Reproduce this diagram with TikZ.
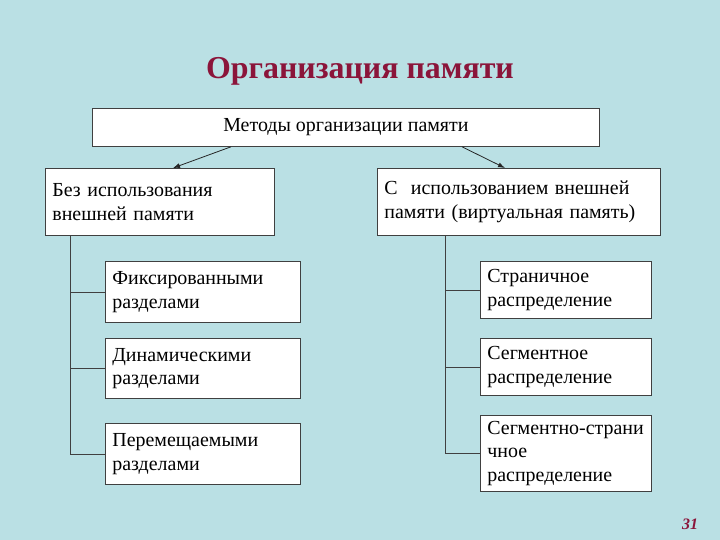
\documentclass[tikz,border=0pt]{standalone}
\usepackage{fontspec}
\setmainfont{Liberation Serif}
\usetikzlibrary{arrows.meta,positioning}
\definecolor{slidebg}{RGB}{186,224,228}
\definecolor{titlered}{RGB}{139,21,58}
\begin{document}
\begin{tikzpicture}[
  x=1bp, y=-1bp,
  font=\fontsize{20}{23.5}\selectfont,
  box/.style={draw=black!75, line width=0.8bp, fill=white, anchor=north west, inner xsep=7bp, inner ysep=0bp, align=left},
  arrow/.style={-{Latex[length=7bp,width=5bp]}, line width=0.8bp, draw=black!85},
  trunk/.style={line width=0.8bp, draw=black!75}
]
\fill[slidebg] (0,0) rectangle (720,540);
\useasboundingbox (0,0) rectangle (720,540);

\node[font=\fontsize{32}{34}\selectfont\bfseries, text=titlered] (title) at (360,71) {Организация памяти};

\node[box, align=center, minimum width=507bp, minimum height=38bp] (methods) at (92,108)
  {Методы организации памяти};

\node[box, text width=215bp, minimum height=67bp] (nonext) at (45,168)
  {Без использования\\внешней памяти};
\node[box, text width=269bp, minimum height=67bp] (virt) at (377,168)
  {С\ \ использованием внешней\\памяти (виртуальная память)};

\draw[arrow] ([xshift=139bp]methods.south west) -- ([xshift=128bp]nonext.north west);
\draw[arrow] ([xshift=370bp]methods.south west) -- ([xshift=128bp]virt.north west);

\node[box, text width=181bp, minimum height=61bp] (fixed) at (105,261)
  {Фиксированными\\разделами};
\node[box, text width=181bp, minimum height=60bp] (dynamic) at (105,338)
  {Динамическими\\разделами};
\node[box, text width=181bp, minimum height=61bp] (movable) at (105,423)
  {Перемещаемыми\\разделами};

\node[box, text width=157bp, minimum height=57bp] (paged) at (480,261)
  {Страничное\\распределение};
\node[box, text width=157bp, minimum height=57bp] (segm) at (480,338)
  {Сегментное\\распределение};
\node[box, text width=157bp, minimum height=76bp] (segpaged) at (480,415)
  {Сегментно-страни\\чное\\распределение};

\coordinate (ltrunk) at ([xshift=25bp]nonext.south west);
\coordinate (rtrunk) at ([xshift=68bp]virt.south west);

\draw[trunk] (ltrunk) |- (movable.west);
\draw[trunk] (ltrunk |- fixed.west) -- (fixed.west);
\draw[trunk] (ltrunk |- dynamic.west) -- (dynamic.west);

\draw[trunk] (rtrunk) |- (segpaged.west);
\draw[trunk] (rtrunk |- paged.west) -- (paged.west);
\draw[trunk] (rtrunk |- segm.west) -- (segm.west);

\node[font=\fontsize{16}{18}\selectfont\bfseries\itshape, text=titlered] (pageno) at (690,524) {31};
\end{tikzpicture}
\end{document}
